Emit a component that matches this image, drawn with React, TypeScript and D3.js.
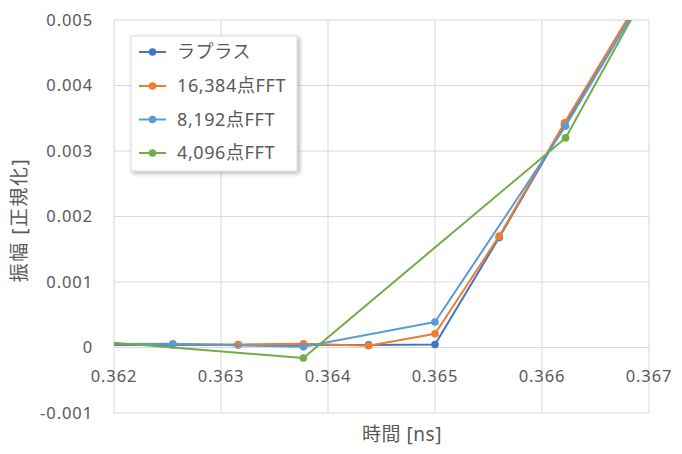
import React from "react";
import * as d3 from "d3";

const seriesNames = ["ラプラス", "16,384点FFT", "8,192点FFT", "4,096点FFT"];
const seriesColors = ["#4472C4", "#ED7D31", "#5B9BD5", "#70AD47"];

const laplaceX = [0.36133, 0.36194, 0.36255, 0.36316, 0.36377, 0.36438, 0.365, 0.3656, 0.36621, 0.36683];
const laplaceY = [0.00004, 0.00004, 0.00004, 0.00004, 0.00004, 0.00004, 0.000045, 0.00168, 0.0034, 0.0051];

const fft16kX = [0.36133, 0.36194, 0.36255, 0.36316, 0.36377, 0.36438, 0.365, 0.3656, 0.36621, 0.36683];
const fft16kY = [0.00005, 0.00005, 0.00005, 0.000046, 0.000056, 0.000026, 0.00021, 0.0017, 0.00343, 0.0051];

const fft8kX = [0.36133, 0.36255, 0.36377, 0.365, 0.36622, 0.36744];
const fft8kY = [0.00005, 0.000056, 0.00001, 0.00039, 0.00338, 0.0067];

const fft4kX = [0.36133, 0.36377, 0.36622, 0.36866];
const fft4kY = [0.00016, -0.00016, 0.0032, 0.0104];

const xTicks = [0.362, 0.363, 0.364, 0.365, 0.366, 0.367];
const yTicks = [-0.001, 0, 0.001, 0.002, 0.003, 0.004, 0.005];

const xTitle = "時間 [ns]";
const yTitle = "振幅 [正規化]";

const W = 682;
const H = 454;
const plot = { left: 114, right: 649, top: 20, bottom: 413 };
const FONT = "'Noto Sans', 'Noto Sans CJK JP', sans-serif";
const TEXT = "#595959";

export default function App() {
  const x = d3.scaleLinear().domain([0.362, 0.367]).range([plot.left, plot.right]);
  const y = d3.scaleLinear().domain([-0.001, 0.005]).range([plot.bottom, plot.top]);

  const allX = [laplaceX, fft16kX, fft8kX, fft4kX];
  const allY = [laplaceY, fft16kY, fft8kY, fft4kY];
  const series = allX.map((xs, i) => xs.map((v, j) => [v, allY[i][j]] as [number, number]));

  const line = d3
    .line<[number, number]>()
    .x((d) => x(d[0]))
    .y((d) => y(d[1]));

  const fmtY = (v: number) => (v === 0 ? "0" : d3.format(".3f")(v).replace("\u2212", "-"));

  const legendY = [52, 86, 119.5, 153];

  return (
    <svg width={W} height={H} style={{ display: "block", position: "absolute", left: 0, top: 0 }}>
      <defs>
        <clipPath id="plotclip">
          <rect x={plot.left} y={plot.top} width={plot.right - plot.left} height={plot.bottom - plot.top} />
        </clipPath>
        <filter id="shadow" x="-20%" y="-20%" width="140%" height="140%">
          <feDropShadow dx="2" dy="2" stdDeviation="2" floodColor="#000" floodOpacity="0.3" />
        </filter>
      </defs>
      <rect x={0} y={0} width={W} height={H} fill="#fff" />
      {/* gridlines */}
      {xTicks.map((t) => (
        <line key={"gx" + t} x1={x(t)} x2={x(t)} y1={plot.top} y2={plot.bottom} stroke="#d9d9d9" strokeWidth={1} />
      ))}
      {yTicks.map((t) => (
        <line key={"gy" + t} x1={plot.left} x2={plot.right} y1={y(t)} y2={y(t)} stroke="#d9d9d9" strokeWidth={1} />
      ))}
      {/* y tick labels */}
      {yTicks.map((t) => (
        <text
          key={"ty" + t}
          x={93}
          y={y(t)}
          dy="0.35em"
          textAnchor="end"
          fontFamily={FONT}
          fontSize={16.5}
          letterSpacing={0.9}
          fill={TEXT}
        >
          {fmtY(t)}
        </text>
      ))}
      {/* x tick labels */}
      {xTicks.map((t) => (
        <text
          key={"tx" + t}
          x={x(t)}
          y={382}
          textAnchor="middle"
          fontFamily={FONT}
          fontSize={16.5}
          letterSpacing={0.9}
          fill={TEXT}
        >
          {d3.format(".3f")(t)}
        </text>
      ))}
      {/* series */}
      <g clipPath="url(#plotclip)">
        {series.map((s, i) => (
          <g key={"s" + i}>
            <path d={line(s) || ""} fill="none" stroke={seriesColors[i]} strokeWidth={2} strokeLinejoin="round" />
            {s.map((d, j) => (
              <circle key={j} cx={x(d[0])} cy={y(d[1])} r={3.8} fill={seriesColors[i]} />
            ))}
          </g>
        ))}
      </g>
      {/* axis titles */}
      <text x={402} y={441} textAnchor="middle" fontFamily={FONT} fontSize={19} letterSpacing={0.5} fill={TEXT}>
        {xTitle}
      </text>
      <text
        transform={`translate(26, 220) rotate(-90)`}
        textAnchor="middle"
        fontFamily={FONT}
        fontSize={19}
        letterSpacing={1.5}
        fill={TEXT}
      >
        {yTitle}
      </text>
      {/* legend */}
      <rect x={131} y={36} width={166} height={135} fill="#fff" stroke="#d9d9d9" strokeWidth={1} filter="url(#shadow)" />
      {seriesNames.map((n, i) => (
        <g key={"l" + i}>
          <line x1={139} x2={166} y1={legendY[i]} y2={legendY[i]} stroke={seriesColors[i]} strokeWidth={2} />
          <circle cx={152.5} cy={legendY[i]} r={3.8} fill={seriesColors[i]} />
          <text x={177} y={legendY[i]} dy="0.35em" fontFamily={FONT} fontSize={18} letterSpacing={0.6} fill={TEXT}>
            {n}
          </text>
        </g>
      ))}
    </svg>
  );
}
